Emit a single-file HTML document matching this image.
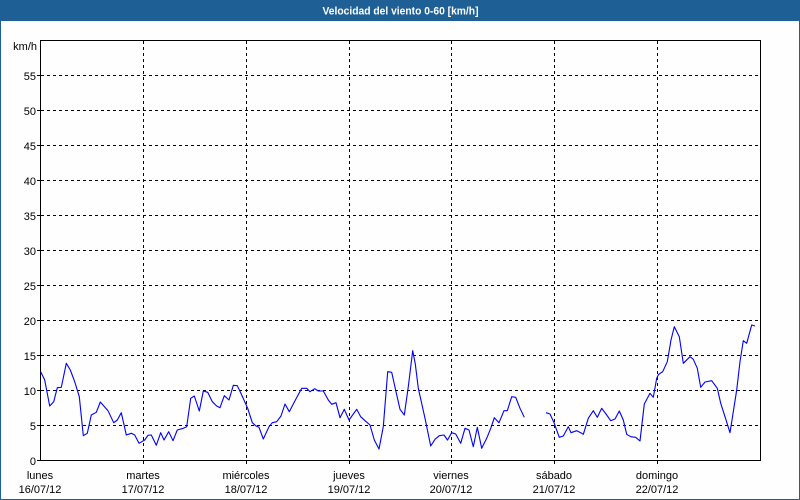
<!DOCTYPE html>
<html><head><meta charset="utf-8"><style>
html,body{margin:0;padding:0;background:#fff;}
svg{display:block;}
text{font-family:"Liberation Sans",sans-serif;font-size:11px;fill:#000;}
</style></head><body>
<svg width="800" height="500" viewBox="0 0 800 500" xmlns="http://www.w3.org/2000/svg">
<rect x="0" y="0" width="800" height="500" fill="#fdfefd"/>
<rect x="0.5" y="0.5" width="799" height="499" fill="none" stroke="#1e5f96" stroke-width="1"/>
<rect x="0" y="0" width="800" height="21" fill="#1e5f96"/>
<text x="400.5" y="14.5" text-anchor="middle" style="font-weight:bold;fill:#fff;font-size:11px" textLength="156" lengthAdjust="spacingAndGlyphs">Velocidad del viento 0-60 [km/h]</text>

<g stroke="#000" stroke-width="1" stroke-dasharray="3,3" shape-rendering="crispEdges" fill="none">
<line x1="41" y1="75.5" x2="760" y2="75.5"/>
<line x1="41" y1="110.5" x2="760" y2="110.5"/>
<line x1="41" y1="145.5" x2="760" y2="145.5"/>
<line x1="41" y1="180.5" x2="760" y2="180.5"/>
<line x1="41" y1="215.5" x2="760" y2="215.5"/>
<line x1="41" y1="250.5" x2="760" y2="250.5"/>
<line x1="41" y1="285.5" x2="760" y2="285.5"/>
<line x1="41" y1="320.5" x2="760" y2="320.5"/>
<line x1="41" y1="355.5" x2="760" y2="355.5"/>
<line x1="41" y1="390.5" x2="760" y2="390.5"/>
<line x1="41" y1="425.5" x2="760" y2="425.5"/>
<line x1="143.5" y1="41" x2="143.5" y2="460"/>
<line x1="246.5" y1="41" x2="246.5" y2="460"/>
<line x1="349.5" y1="41" x2="349.5" y2="460"/>
<line x1="451.5" y1="41" x2="451.5" y2="460"/>
<line x1="554.5" y1="41" x2="554.5" y2="460"/>
<line x1="657.5" y1="41" x2="657.5" y2="460"/>
</g>

<g stroke="#000" stroke-width="1" shape-rendering="crispEdges" fill="none">
<rect x="40.5" y="40.5" width="720" height="420"/>
<line x1="37" y1="75.5" x2="41" y2="75.5"/>
<line x1="37" y1="110.5" x2="41" y2="110.5"/>
<line x1="37" y1="145.5" x2="41" y2="145.5"/>
<line x1="37" y1="180.5" x2="41" y2="180.5"/>
<line x1="37" y1="215.5" x2="41" y2="215.5"/>
<line x1="37" y1="250.5" x2="41" y2="250.5"/>
<line x1="37" y1="285.5" x2="41" y2="285.5"/>
<line x1="37" y1="320.5" x2="41" y2="320.5"/>
<line x1="37" y1="355.5" x2="41" y2="355.5"/>
<line x1="37" y1="390.5" x2="41" y2="390.5"/>
<line x1="37" y1="425.5" x2="41" y2="425.5"/>
<line x1="37" y1="460.5" x2="41" y2="460.5"/>
<line x1="143.5" y1="460" x2="143.5" y2="464"/>
<line x1="246.5" y1="460" x2="246.5" y2="464"/>
<line x1="349.5" y1="460" x2="349.5" y2="464"/>
<line x1="451.5" y1="460" x2="451.5" y2="464"/>
<line x1="554.5" y1="460" x2="554.5" y2="464"/>
<line x1="657.5" y1="460" x2="657.5" y2="464"/>
</g>

<g text-anchor="end">
<text x="37" y="50">km/h</text>
<text x="36" y="80">55</text>
<text x="36" y="115">50</text>
<text x="36" y="150">45</text>
<text x="36" y="185">40</text>
<text x="36" y="220">35</text>
<text x="36" y="255">30</text>
<text x="36" y="290">25</text>
<text x="36" y="325">20</text>
<text x="36" y="360">15</text>
<text x="36" y="395">10</text>
<text x="36" y="430">5</text>
<text x="36" y="465">0</text>
</g>

<g text-anchor="middle">
<text x="40" y="479">lunes</text><text x="40" y="493">16/07/12</text>
<text x="143" y="479">martes</text><text x="143" y="493">17/07/12</text>
<text x="246" y="479">miércoles</text><text x="246" y="493">18/07/12</text>
<text x="349" y="479">jueves</text><text x="349" y="493">19/07/12</text>
<text x="451" y="479">viernes</text><text x="451" y="493">20/07/12</text>
<text x="554" y="479">sábado</text><text x="554" y="493">21/07/12</text>
<text x="657" y="479">domingo</text><text x="657" y="493">22/07/12</text>
</g>

<g fill="none" stroke="#0000ff" stroke-width="1.1" stroke-linejoin="round">
<polyline points="40.7,371.7 44.7,380 49.7,406 53.7,401.7 57.3,387.7 61.3,387.3 66.3,363.3 70.3,370 74.7,381.7 79.3,396.7 83.3,435.7 87.3,433.3 91.3,415 96.3,412.3 100.3,402 108,410.7 113.7,422.7 117.3,420 121.3,412.7 126.3,435 131.3,433.3 134.7,435 139,443.3 144.7,440 148,435.3 151.3,435 156.3,445.3 160.7,432.7 164,440 168.7,431.7 173,440.7 177.3,430 183.3,428.3 186.7,426.7 190.7,398.3 194.3,396 199.3,411 203.3,391 207.7,392.3 212.3,401.7 216.7,406 220,407.7 224.3,395.7 229,400 233.3,385.3 237.3,385.7 241.7,395 247.7,408.3 252.3,422.7 256,426 259,427.3 263.3,439 269,426.7 272.3,422.7 276.7,421.7 281,416 285,404 289.3,411.7 295,400.7 301.7,388.3 306.7,388.3 310,391.7 314.7,388.7 318.3,391 323.3,391 328.3,400 331.7,404.3 336,402.7 340,417.7 344.3,409.3 349,420 356.7,409.3 360.7,416.7 365,420.7 370,425 374.3,440 379,449 383.3,426.7 387.7,371.7 391.7,372.3 396,391.7 400,409.3 404.3,415 408.3,386.7 412.7,350.7 415.3,364 418.3,388.3 425,418.3 430.7,446 435,439.3 439.3,435.7 444,435 447.5,440 451.7,432.7 455.7,434 460.7,443.3 465,428.3 469,430 473.3,446.7 477.3,427.3 481.7,448.3 486.7,438.3 491,427.7 494.3,417.7 499,422.7 504,410.7 507.3,410.7 511.7,396.7 515.7,397.3 520,408.3 524.3,417.3"/>
<polyline points="546,412.7 550,414 554,422.7 559.3,437.3 563.3,436 568.3,426.7 571,432.7 576.7,430.7 581.7,433.3 583.3,434.3 588.3,418.3 593.3,410.7 597.3,417.3 601.7,408.3 606,414 610.7,420.7 615,419 619.3,411 623.3,420 626.7,434.3 630.7,436.7 635.7,437.3 640,441 644.3,404 650,393.3 653.3,397.3 656.7,378.3 658.5,374.5 662.7,371.7 667.3,361.7 671,340 674.3,326.7 679.3,336.7 683.3,363.3 690,356.7 693.3,359.3 697.3,368.3 700.7,387.3 705,382 711.7,380.7 717.3,388.3 720.7,403.3 725,416.7 730,432.7 736.7,390 740,361.7 743.3,340.7 746.7,343.3 751.7,325 755,326"/>
</g>
</svg>
</body></html>
